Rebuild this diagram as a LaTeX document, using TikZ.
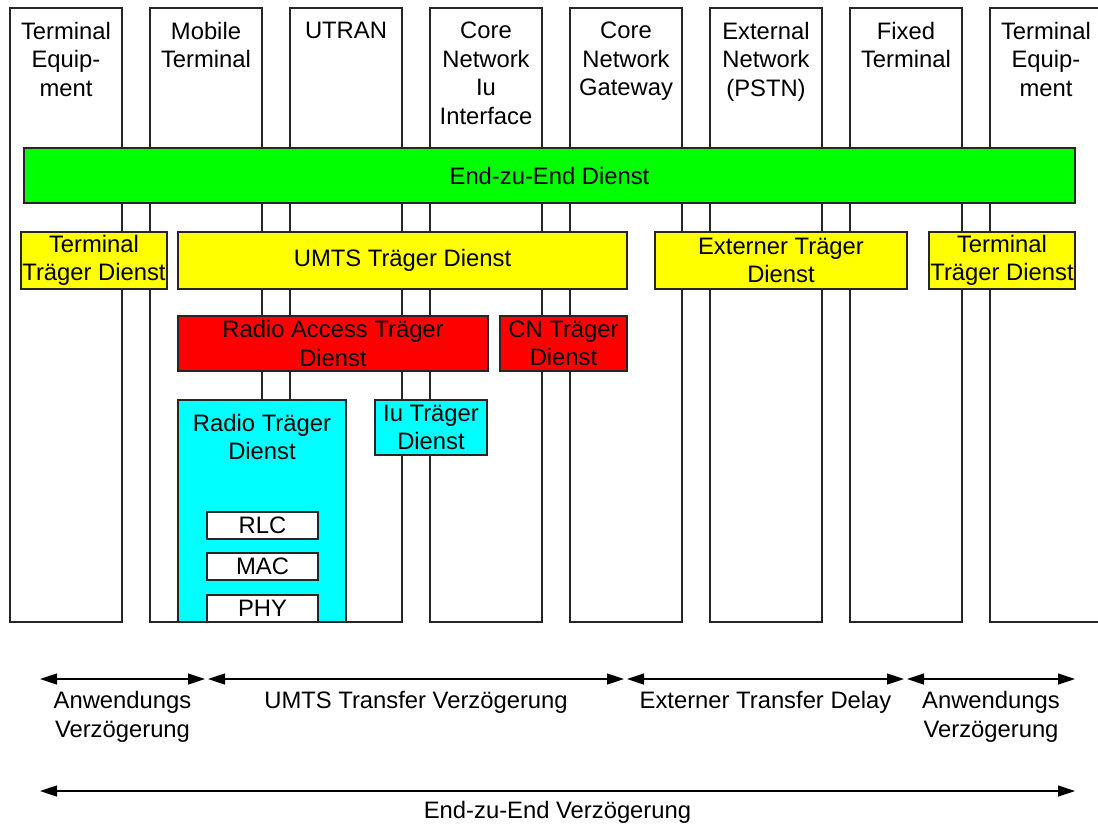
\documentclass[tikz,border=0pt]{standalone}
\usepackage{fontspec}
\setmainfont{Liberation Sans}
\usetikzlibrary{arrows.meta}

\definecolor{e2egreen}{RGB}{0,255,0}
\definecolor{umtsyellow}{RGB}{255,255,0}
\definecolor{rabred}{RGB}{255,0,0}
\definecolor{radiocyan}{RGB}{0,255,255}

\tikzset{
  plane/.style={draw=black!85, line width=1.2pt, outer sep=0pt},
  svc/.style={plane, inner sep=0pt, align=center, anchor=north west},
  coltext/.style={anchor=north, inner xsep=0pt, inner ysep=14pt, align=center},
  delay/.style={line width=1.2pt, {Triangle[length=17pt,width=11pt]}-{Triangle[length=17pt,width=11pt]}},
  dlabel/.style={midway, below=#1, inner sep=0pt, align=center},
  dlabel/.default=12pt,
}

\begin{document}
\begin{tikzpicture}[x=1pt, y=-1pt, font=\fontsize{23.8}{28.4}\selectfont]
  % a service box: name, colour, left, top, width, height, text
  \newcommand{\svcbox}[7]{%
    \node[svc, fill=#2, minimum width=#5pt, minimum height=#6pt] (#1) at (#3,#4) {#7};
  }
  \useasboundingbox (0,0) rectangle (1098,823);
  \clip (0,0) rectangle (1098,823);
  \fill[white] (0,0) rectangle (1098,823);
  % ------------------------------------------------------------------ the eight columns
  \foreach \name/\txt [count=\i from 0] in {%
      te1/{Terminal\\Equip-\\ment}, mt/{Mobile\\Terminal}, utran/{UTRAN},
      cniu/{Core\\Network\\Iu\\Interface}, cngw/{Core\\Network\\Gateway},
      pstn/{External\\Network\\(PSTN)}, ft/{Fixed\\Terminal}, te2/{Terminal\\Equip-\\ment}} {
    \node[plane, fill=white, minimum width=112pt, minimum height=614pt, anchor=north west]
      (\name) at (10+140*\i, 8) {};
    \node[coltext] (\name-t) at (\name.north) {\txt};
  }
  % ------------------------------------------------------------------ bearer services
  \svcbox{e2e}{e2egreen}{24}{148}{1051}{55}{End-zu-End Dienst}
  \svcbox{tbd1}{umtsyellow}{21}{232}{146}{57}{Terminal\\Träger Dienst}
  \svcbox{umts}{umtsyellow}{178}{232}{449}{57}{UMTS Träger Dienst}
  \svcbox{ext}{umtsyellow}{655}{232}{252}{57}{Externer Träger\\Dienst}
  \svcbox{tbd2}{umtsyellow}{929}{232}{146}{57}{Terminal\\Träger Dienst}
  \svcbox{rab}{rabred}{178}{316}{310}{55}{Radio Access Träger\\Dienst}
  \svcbox{cnb}{rabred}{500}{316}{127}{55}{CN Träger\\Dienst}
  \svcbox{rb}{radiocyan}{178}{400}{168}{222}{}
  \node[coltext] (rb-t) at (rb.north) {Radio Träger\\Dienst};
  \svcbox{iub}{radiocyan}{375}{400}{112}{55}{Iu Träger\\Dienst}
  \svcbox{rlc}{white}{207}{512}{111}{27}{RLC}
  \svcbox{mac}{white}{207}{553}{111}{27}{MAC}
  \svcbox{phy}{white}{207}{595}{111}{27}{PHY}
  % ------------------------------------------------------------------ delays
  \coordinate (d0) at (40,679);
  \coordinate (d1) at (205,679);
  \coordinate (d2) at (208,679);
  \coordinate (d3) at (624,679);
  \coordinate (d4) at (627,679);
  \coordinate (d5) at (904,679);
  \coordinate (d6) at (907,679);
  \coordinate (d7) at (1075,679);
  \draw[delay] (d0) -- (d1) node[dlabel] (app1) {Anwendungs\\Verzögerung};
  \draw[delay] (d2) -- (d3) node[dlabel] (umtsd) {UMTS Transfer Verzögerung};
  \draw[delay] (d4) -- (d5) node[dlabel] (extd) {Externer Transfer Delay};
  \draw[delay] (d6) -- (d7) node[dlabel] (app2) {Anwendungs\\Verzögerung};
  \coordinate (e0) at (40,791);
  \coordinate (e1) at (1075,791);
  \draw[delay] (e0) -- (e1) node[dlabel=10pt] (e2ed) {End-zu-End Verzögerung};
\end{tikzpicture}
\end{document}
